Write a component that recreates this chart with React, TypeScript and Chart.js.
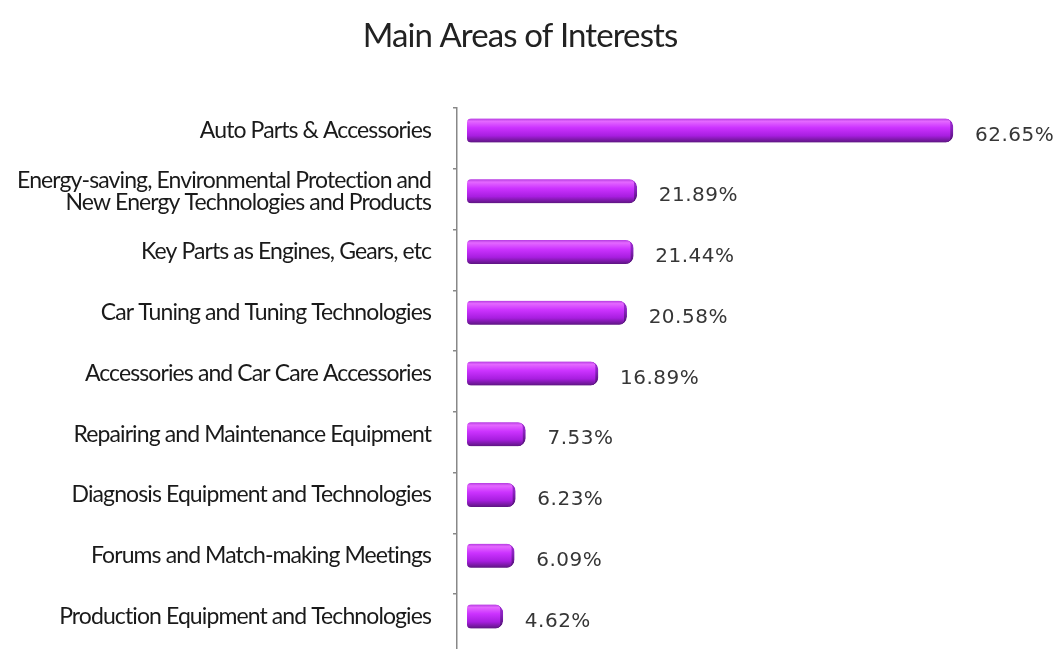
import React, { useEffect, useRef } from 'react';
import { Chart, registerables } from 'chart.js';

Chart.register(...registerables);

const chartTitle = 'Main Areas of Interests';

const categories: (string | string[])[] = [
  'Auto Parts & Accessories',
  ['Energy-saving, Environmental Protection and', 'New Energy Technologies and Products'],
  'Key Parts as Engines, Gears, etc',
  'Car Tuning and Tuning Technologies',
  'Accessories and Car Care Accessories',
  'Repairing and Maintenance Equipment',
  'Diagnosis Equipment and Technologies',
  'Forums and Match-making Meetings',
  'Production Equipment and Technologies',
];

const values: number[] = [62.65, 21.89, 21.44, 20.58, 16.89, 7.53, 6.23, 6.09, 4.62];

const valueLabels: string[] = values.map((v) => v.toFixed(2) + '%');

const tickOffsets: number[] = categories.map((_, i) => i - 0.37);

export default function App() {
  const ref = useRef<HTMLCanvasElement>(null);

  useEffect(() => {
    const canvas = ref.current;
    if (!canvas) return;

    const barFill = (c: any) => {
      const chart = c.chart;
      const ys = chart.scales && chart.scales.y;
      if (!ys || c.type !== 'data') return '#c030f0';
      const yc = ys.getPixelForValue(c.dataIndex);
      if (!Number.isFinite(yc)) return '#c030f0';
      const g = chart.ctx.createLinearGradient(0, yc - 12, 0, yc + 12);
      g.addColorStop(0, '#b43ae0');
      g.addColorStop(0.12, '#e468ff');
      g.addColorStop(0.38, '#cc33ff');
      g.addColorStop(0.72, '#a81ee0');
      g.addColorStop(1, '#5c1580');
      return g;
    };

    const barEdge = (c: any) => {
      const chart = c.chart;
      const ys = chart.scales && chart.scales.y;
      if (!ys || c.type !== 'data') return '#7a1aa8';
      const yc = ys.getPixelForValue(c.dataIndex);
      if (!Number.isFinite(yc)) return '#7a1aa8';
      const g = chart.ctx.createLinearGradient(0, yc - 12, 0, yc + 12);
      g.addColorStop(0, '#a030d0');
      g.addColorStop(0.4, '#8a22c0');
      g.addColorStop(1, '#4a0f6a');
      return g;
    };

    const tightText = {
      id: 'tightText',
      beforeDraw(chart: any) {
        chart.ctx.letterSpacing = '-0.9px';
      },
    };

    const valueLabelPlugin = {
      id: 'valueLabels',
      afterDatasetsDraw(chart: any) {
        const ctx = chart.ctx;
        const meta = chart.getDatasetMeta(0);
        ctx.save();
        ctx.letterSpacing = '0.5px';
        ctx.font = '20px "DejaVu Sans"';
        ctx.fillStyle = '#363636';
        ctx.textAlign = 'left';
        ctx.textBaseline = 'middle';
        meta.data.forEach((el: any, i: number) => {
          ctx.fillText(valueLabels[i], el.x + 22, el.y + 5);
        });
        ctx.restore();
      },
    };

    const chart = new Chart(canvas, {
      type: 'bar',
      data: {
        datasets: [
          {
            data: values.map((v, i) => ({ x: v, y: i })) as any,
            backgroundColor: barFill,
            borderColor: barEdge,
            borderWidth: { top: 0, right: 3, bottom: 0, left: 0 },
            borderSkipped: false,
            borderRadius: { topLeft: 4, bottomLeft: 4, topRight: 8, bottomRight: 8 },
            barThickness: 24,
            xAxisID: 'x',
            yAxisID: 'y',
          },
        ],
      },
      options: {
        indexAxis: 'y',
        responsive: false,
        animation: false,
        layout: { padding: { top: 0, left: 0, right: 16, bottom: 40 } },
        plugins: {
          legend: { display: false },
          tooltip: { enabled: false },
          title: {
            display: true,
            text: chartTitle,
            color: '#222222',
            font: { family: 'Lato', size: 33, weight: 'normal', lineHeight: 1.2 },
            padding: { top: 17, bottom: 51.4 },
          },
        },
        scales: {
          x: {
            type: 'linear',
            display: false,
            min: -1.29,
            max: 73.87,
          },
          y: {
            type: 'linear',
            position: 'left',
            reverse: true,
            offset: false,
            min: -0.37,
            max: 8.88,
            weight: 1,
            grid: { display: false, offset: false },
            border: { display: false },
            afterBuildTicks: (s: any) => {
              s.ticks = categories.map((_, i) => ({ value: i }));
            },
            afterFit: (s: any) => {
              s.width = 453;
            },
            ticks: {
              autoSkip: false,
              padding: 14,
              color: '#1a1a1a',
              font: { family: 'Lato', size: 23, lineHeight: 0.96 },
              callback: (_v: any, i: number) => categories[i],
            },
          },
          yt: {
            type: 'linear',
            position: 'left',
            reverse: true,
            offset: false,
            min: -0.37,
            max: 8.88,
            weight: 0,
            grid: { drawOnChartArea: false, offset: false, tickLength: 4, color: '#888888', lineWidth: 1.5 },
            border: { display: true, color: '#888888', width: 1.5 },
            ticks: { display: false },
            afterBuildTicks: (s: any) => {
              s.ticks = tickOffsets.map((v) => ({ value: v }));
            },
            afterFit: (s: any) => {
              s.width = 4;
            },
          },
        },
      } as any,
      plugins: [tightText, valueLabelPlugin],
    });

    return () => {
      chart.destroy();
    };
  }, []);

  return (
    <div
      style={{
        position: 'fixed',
        left: 0,
        top: 0,
        width: 1056,
        height: 649,
        overflow: 'hidden',
        background: '#ffffff',
      }}
    >
      <canvas ref={ref} width={1056} height={710} style={{ display: 'block' }} />
    </div>
  );
}
